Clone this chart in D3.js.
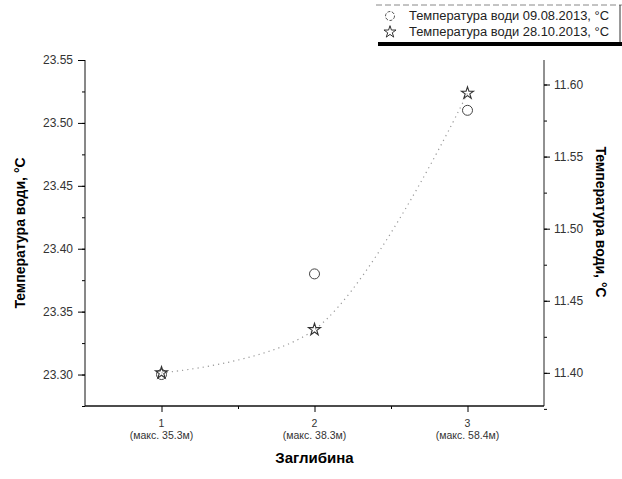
<!DOCTYPE html>
<html lang="uk">
<head>
<meta charset="UTF-8">
<script src="https://cdn.jsdelivr.net/npm/d3@7"></script>
<style>
    body { margin: 0; background: #fff; }
    svg { display: block; font-family: Arial, "Liberation Sans", sans-serif; }
    .tick text { fill: #333; }
</style>
</head>
<body>
<div id="chart"></div>
<script>
// depth categories
const depths = [1, 2, 3];
const depthMax = ["(макс. 35.3м)", "(макс. 38.3м)", "(макс. 58.4м)"];
// water temperature, 09.08.2013 (left axis)
const tempAug = [23.30, 23.38, 23.51];
// water temperature, 28.10.2013 (right axis)
const tempOct = [11.40, 11.43, 11.594];
const leftTicks = [23.30, 23.35, 23.40, 23.45, 23.50, 23.55];
const rightTicks = [11.40, 11.45, 11.50, 11.55, 11.60];
const legendLabels = ["Температура води 09.08.2013, °C", "Температура води 28.10.2013, °C"];

const width = 622, height = 479;
const m = {left: 85, right: 544, top: 60, bottom: 406};

const svg = d3.select("#chart").append("svg")
    .attr("width", width)
    .attr("height", height);

const x = d3.scaleLinear().domain([0.5, 3.5]).range([m.left, m.right]);
const yL = d3.scaleLinear().domain([23.275, 23.55]).range([m.bottom, m.top]);
const yR = d3.scaleLinear().domain([11.377, 11.617]).range([m.bottom, m.top]);

// left axis
const gL = svg.append("g").attr("transform", `translate(${m.left},0)`);
gL.call(d3.axisLeft(yL).tickValues(d3.range(23.275, 23.551, 0.025)).tickSize(3).tickFormat(""))
    .call(g => g.select(".domain").remove());
gL.append("g").call(d3.axisLeft(yL).tickValues(leftTicks).tickSize(7).tickPadding(5).tickFormat(d3.format(".2f")))
    .call(g => g.selectAll("text").attr("font-size", 12).attr("font-family", "Arial"))
    .call(g => g.select(".domain").attr("d", `M0,${m.bottom}V${m.top}`).attr("stroke", "#111"));

// right axis
const gR = svg.append("g").attr("transform", `translate(${m.right},0)`);
gR.call(d3.axisRight(yR).tickValues(d3.range(11.375, 11.616, 0.025)).tickSize(3).tickFormat(""))
    .call(g => g.select(".domain").remove());
gR.append("g").call(d3.axisRight(yR).tickValues(rightTicks).tickSize(6).tickPadding(4).tickFormat(d3.format(".2f")))
    .call(g => g.selectAll("text").attr("font-size", 12).attr("font-family", "Arial"))
    .call(g => g.select(".domain").attr("d", `M0,${m.bottom}V${m.top}`).attr("stroke", "#222"));

// bottom axis
const gB = svg.append("g").attr("transform", `translate(0,${m.bottom})`);
gB.call(d3.axisBottom(x).tickValues([1.5, 2.5]).tickSize(3).tickFormat(""))
    .call(g => g.select(".domain").remove());
gB.append("g").call(d3.axisBottom(x).tickValues(depths).tickSize(6).tickFormat(""))
    .call(g => g.select(".domain").attr("d", `M${m.left},0H${m.right}`).attr("stroke", "#111").attr("stroke-width", 1.5));
gB.selectAll(".xlab").data(depths).join("text")
    .attr("class", "xlab")
    .attr("x", d => x(d))
    .attr("text-anchor", "middle")
    .attr("font-size", 10.5)
    .attr("fill", "#333")
    .each(function(d, i) {
        const t = d3.select(this);
        t.append("tspan").attr("x", x(d)).attr("y", 21).text(d);
        t.append("tspan").attr("x", x(d)).attr("y", 33).text(depthMax[i]);
    });

// titles
svg.append("text")
    .attr("transform", `translate(25,${(m.top + m.bottom) / 2}) rotate(-90)`)
    .attr("text-anchor", "middle")
    .attr("font-size", 14).attr("font-weight", "bold")
    .text("Температура води, °C");
svg.append("text")
    .attr("transform", `translate(596,222) rotate(90)`)
    .attr("text-anchor", "middle")
    .attr("font-size", 14).attr("font-weight", "bold")
    .text("Температура води, °C");
svg.append("text")
    .attr("x", (m.left + m.right) / 2)
    .attr("y", 463)
    .attr("text-anchor", "middle")
    .attr("font-size", 15).attr("font-weight", "bold")
    .text("Заглибина");

// dotted line through the October series
const line = d3.line()
    .x((d, i) => x(depths[i]))
    .y(d => yR(d))
    .curve(d3.curveCatmullRom);
svg.append("path")
    .datum(tempOct)
    .attr("d", line)
    .attr("fill", "none")
    .attr("stroke", "#999")
    .attr("stroke-width", 1.2)
    .attr("stroke-dasharray", "1.2,4");

const star = d3.symbol().type(d3.symbolStar).size(45);

// markers
svg.selectAll(".circ").data(tempAug).join("circle")
    .attr("class", "circ")
    .attr("cx", (d, i) => x(depths[i]))
    .attr("cy", d => yL(d))
    .attr("r", 5)
    .attr("fill", "none")
    .attr("stroke", "#444")
    .attr("stroke-width", 1);
svg.selectAll(".star").data(tempOct).join("path")
    .attr("class", "star")
    .attr("transform", (d, i) => `translate(${x(depths[i])},${yR(d)})`)
    .attr("d", star)
    .attr("fill", "none")
    .attr("stroke", "#333")
    .attr("stroke-width", 1.1);

// legend
const lg = svg.append("g");
lg.append("line").attr("x1", 376).attr("x2", 622).attr("y1", 5).attr("y2", 5)
    .attr("stroke", "#888").attr("stroke-dasharray", "6,3");
lg.append("line").attr("x1", 620).attr("x2", 620).attr("y1", 5).attr("y2", 44)
    .attr("stroke", "#333");
lg.append("rect").attr("x", 378).attr("y", 42).attr("width", 244).attr("height", 4).attr("fill", "#000");
lg.append("circle").attr("cx", 390).attr("cy", 16).attr("r", 4.5)
    .attr("fill", "none").attr("stroke", "#555").attr("stroke-dasharray", "3,1.5");
lg.append("path").attr("transform", "translate(390,32)").attr("d", star)
    .attr("fill", "none").attr("stroke", "#333");
lg.selectAll(".ltxt").data(legendLabels).join("text")
    .attr("class", "ltxt")
    .attr("x", 409)
    .attr("y", (d, i) => 20 + i * 16)
    .attr("font-size", 12.5)
    .attr("fill", "#222")
    .attr("textLength", 200)
    .attr("lengthAdjust", "spacingAndGlyphs")
    .text(d => d);
</script>
</body>
</html>
